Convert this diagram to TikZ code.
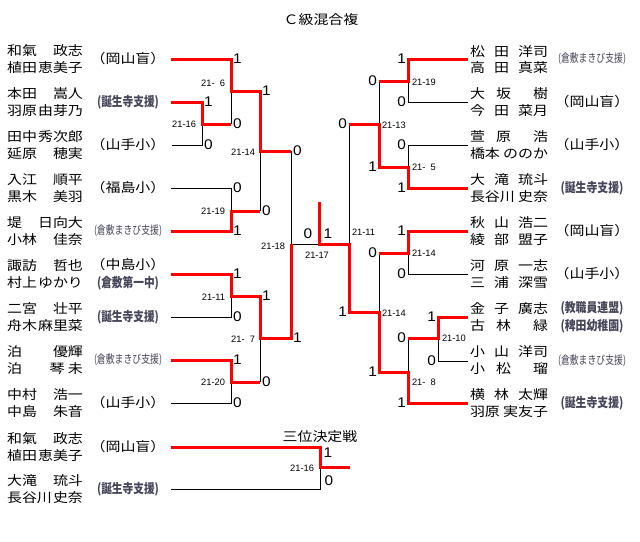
\documentclass[tikz,border=0pt]{standalone}
\usepackage{fontspec}
\usepackage{graphicx}
\setmainfont{Noto Sans CJK JP}
\newfontfamily\latf{Liberation Sans}
\definecolor{wred}{RGB}{255,0,0}
\definecolor{clubc}{RGB}{70,70,90}
\newcommand\NMl[1]{\scalebox{1.15}[1]{\makebox[66pt][l]{\fontsize{13pt}{13pt}\selectfont #1}}}
\newcommand\NMr[1]{\scalebox{1.15}[1]{\makebox[67.8pt][l]{\fontsize{13pt}{13pt}\selectfont #1}}}
\newcommand\BIG[1]{\scalebox{1.15}[1]{\fontsize{13pt}{13pt}\selectfont #1}}
\newcommand\SMC[3]{\textcolor{clubc}{\resizebox{#1}{\height}{\fontsize{#2}{#2}\selectfont\bfseries #3}}}
\newcommand\SMK[3]{\textcolor{clubc}{\resizebox{#1}{\height}{\fontsize{#2}{#2}\selectfont #3}}}
\newcommand\SCO[1]{\scalebox{1.1}[1]{\latf\fontsize{14pt}{14pt}\selectfont #1}}
\newcommand\LBL[1]{{\latf\fontsize{9.3pt}{9.3pt}\selectfont #1}}
\tikzset{
  thin/.style={draw=black, line width=0.8pt},
  win/.style={draw=wred, line width=3pt},
  txt/.style={inner sep=0pt, outer sep=0pt},
  scl/.style={txt, anchor=west},
  scr/.style={txt, anchor=east},
}
\begin{document}
\begin{tikzpicture}[x=1pt,y=-1pt]
\useasboundingbox (0,0) rectangle (640,541);
\fill[white] (0,0) rectangle (640,541);
% ---------- coordinates: left half ----------
\coordinate (a1) at (171,59);  \coordinate (a2) at (231,59);  \coordinate (a3) at (231,91);
\coordinate (a4) at (260,91);  \coordinate (a5) at (260,151); \coordinate (a6) at (291,151);
\coordinate (b1) at (171,102); \coordinate (b2) at (202,102); \coordinate (b3) at (202,124); \coordinate (b4) at (231,124);
\coordinate (c1) at (172,145); \coordinate (c2) at (202,145);
\coordinate (d1) at (171,188); \coordinate (d2) at (231,188); \coordinate (d3) at (231,211); \coordinate (d4) at (260,211);
\coordinate (e1) at (171,231); \coordinate (e2) at (231,231);
\coordinate (f1) at (171,274); \coordinate (f2) at (231,274); \coordinate (f3) at (231,296); \coordinate (f4) at (260,296);
\coordinate (f5) at (260,338); \coordinate (f6) at (291,338); \coordinate (f7) at (291,244);
\coordinate (g1) at (171,317); \coordinate (g2) at (231,317);
\coordinate (h1) at (171,360); \coordinate (h2) at (231,360); \coordinate (h3) at (231,382); \coordinate (h4) at (260,382);
\coordinate (i1) at (171,403); \coordinate (i2) at (231,403);
\coordinate (fin) at (319,244); \coordinate (champ) at (319,202);
% ---------- coordinates: right half ----------
\coordinate (p1) at (468,59);  \coordinate (p2) at (408,59);  \coordinate (p3) at (408,81);  \coordinate (p4) at (379,81);
\coordinate (q1) at (468,102); \coordinate (q2) at (408,102);
\coordinate (r1) at (468,145); \coordinate (r2) at (408,145);
\coordinate (s1) at (468,188); \coordinate (s2) at (408,188); \coordinate (s3) at (408,167); \coordinate (s4) at (379,167);
\coordinate (s5) at (379,124); \coordinate (s6) at (349,124);
\coordinate (t1) at (468,231); \coordinate (t2) at (408,231); \coordinate (t3) at (408,253); \coordinate (t4) at (379,253);
\coordinate (u1) at (468,274); \coordinate (u2) at (408,274);
\coordinate (v1) at (468,317); \coordinate (v2) at (438,317); \coordinate (v3) at (438,338); \coordinate (v4) at (408,338);
\coordinate (w1) at (468,361); \coordinate (w2) at (438,361);
\coordinate (z1) at (468,403); \coordinate (z2) at (408,403); \coordinate (z3) at (408,372); \coordinate (z4) at (379,372);
\coordinate (z5) at (379,312); \coordinate (z6) at (349,312); \coordinate (z7) at (349,244);
% ---------- third place ----------
\coordinate (k1) at (171,447); \coordinate (k2) at (320,447); \coordinate (k3) at (320,467); \coordinate (k4) at (350,467);
\coordinate (m1) at (171,489); \coordinate (m2) at (320,489);
% ---------- losing (thin) lines ----------
\draw[thin] (c1) -- (c2) -- (b3);
\draw[thin] (a3) -- (b4);
\draw[thin] (d1) -- (d2) -- (d3);
\draw[thin] (a5) -- (d4);
\draw[thin] (g1) -- (g2) -- (f3);
\draw[thin] (i1) -- (i2) -- (h3);
\draw[thin] (f5) -- (h4);
\draw[thin] (a6) -- (f7) -- (fin);
\draw[thin] (q1) -- (q2) -- (p3);
\draw[thin] (r1) -- (r2) -- (s3);
\draw[thin] (p4) -- (s5);
\draw[thin] (s6) -- (z7);
\draw[thin] (u1) -- (u2) -- (t3);
\draw[thin] (w1) -- (w2) -- (v3);
\draw[thin] (v4) -- (z3);
\draw[thin] (t4) -- (z5);
\draw[thin] (m1) -- (m2) -- (k3);
% ---------- winning (red) lines ----------
\draw[win] (a1) -- (a2) -- (a3) -- (a4) -- (a5) -- (a6);
\draw[win] (b1) -- (b2) -- (b3) -- (b4);
\draw[win] (e1) -- (e2) -- (d3) -- (d4);
\draw[win] (f1) -- (f2) -- (f3) -- (f4) -- (f5) -- (f6) -- (f7);
\draw[win] (h1) -- (h2) -- (h3) -- (h4);
\draw[win] (p1) -- (p2) -- (p3) -- (p4);
\draw[win] (s1) -- (s2) -- (s3) -- (s4) -- (s5) -- (s6);
\draw[win] (t1) -- (t2) -- (t3) -- (t4);
\draw[win] (v1) -- (v2) -- (v3) -- (v4);
\draw[win] (z1) -- (z2) -- (z3) -- (z4) -- (z5) -- (z6) -- (z7) -- (fin) -- (champ);
\draw[win] (k1) -- (k2) -- (k3) -- (k4);
% ---------- titles ----------
\node[txt] (title) at (321,20) {\BIG{Ｃ級混合複}};
\node[txt] (title3) at (320,437) {\BIG{三位決定戦}};
% ---------- left names ----------
\node[txt] (n1a) at (45,51)  {\NMl{和氣\hfill 政志}};
\node[txt] (n1b) at (45,68)  {\NMl{植田\hfill 恵美子}};
\node[txt] (n2a) at (45,94)  {\NMl{本田\hfill 嵩人}};
\node[txt] (n2b) at (45,111) {\NMl{羽原\hfill 由芽乃}};
\node[txt] (n3a) at (45,137) {\NMl{田中\hfill 秀次郎}};
\node[txt] (n3b) at (45,154) {\NMl{延原\hfill 穂実}};
\node[txt] (n4a) at (45,180) {\NMl{入江\hfill 順平}};
\node[txt] (n4b) at (45,197) {\NMl{黒木\hfill 美羽}};
\node[txt] (n5a) at (45,223) {\NMl{堤\hfill 日向大}};
\node[txt] (n5b) at (45,240) {\NMl{小林\hfill 佳奈}};
\node[txt] (n6a) at (45,266) {\NMl{諏訪\hfill 哲也}};
\node[txt] (n6b) at (45,283) {\NMl{村上\hfill ゆかり}};
\node[txt] (n7a) at (45,309) {\NMl{二宮\hfill 壮平}};
\node[txt] (n7b) at (45,326) {\NMl{舟木\hfill 麻里菜}};
\node[txt] (n8a) at (45,352) {\NMl{泊\hfill 優輝}};
\node[txt] (n8b) at (45,369) {\NMl{泊\hfill 琴\hspace{3pt}未}};
\node[txt] (n9a) at (45,395) {\NMl{中村\hfill 浩一}};
\node[txt] (n9b) at (45,412) {\NMl{中島\hfill 朱音}};
\node[txt] (n10a) at (45,439) {\NMl{和氣\hfill 政志}};
\node[txt] (n10b) at (45,456) {\NMl{植田\hfill 恵美子}};
\node[txt] (n11a) at (45,481) {\NMl{大滝\hfill 琉斗}};
\node[txt] (n11b) at (45,498) {\NMl{長谷川\hfill 史奈}};
% ---------- left clubs ----------
\node[txt] (c1l) at (128,59)  {\BIG{（岡山盲）}};
\node[txt] (c2l) at (128,102) {\SMC{62pt}{13pt}{(誕生寺支援)}};
\node[txt] (c3l) at (128,145) {\BIG{（山手小）}};
\node[txt] (c4l) at (128,188) {\BIG{（福島小）}};
\node[txt] (c5l) at (128,231) {\SMK{68pt}{11.5pt}{(倉敷まきび支援)}};
\node[txt] (c6l) at (128,265) {\BIG{（中島小）}};
\node[txt] (c6m) at (128,283) {\SMC{62pt}{13pt}{(倉敷第一中)}};
\node[txt] (c7l) at (128,317) {\SMC{62pt}{13pt}{(誕生寺支援)}};
\node[txt] (c8l) at (128,360) {\SMK{68pt}{11.5pt}{(倉敷まきび支援)}};
\node[txt] (c9l) at (128,403) {\BIG{（山手小）}};
\node[txt] (c10l) at (128,447) {\BIG{（岡山盲）}};
\node[txt] (c11l) at (128,489) {\SMC{62pt}{13pt}{(誕生寺支援)}};
% ---------- right names ----------
\node[txt] (r1a) at (509,52)  {\NMr{松\hfill 田\hfill 洋司}};
\node[txt] (r1b) at (509,68)  {\NMr{高\hfill 田\hfill 真菜}};
\node[txt] (r2a) at (509,94)  {\NMr{大\hfill 坂\hfill\hfill 樹}};
\node[txt] (r2b) at (509,111) {\NMr{今\hfill 田\hfill 菜月}};
\node[txt] (r3a) at (509,137) {\NMr{萱\hfill 原\hfill\hfill 浩}};
\node[txt] (r3b) at (509,154) {\NMr{橋本\hfill ののか}};
\node[txt] (r4a) at (509,180) {\NMr{大\hfill 滝\hfill 琉斗}};
\node[txt] (r4b) at (509,197) {\NMr{長谷川\hfill 史奈}};
\node[txt] (r5a) at (509,223) {\NMr{秋\hfill 山\hfill 浩二}};
\node[txt] (r5b) at (509,240) {\NMr{綾\hfill 部\hfill 盟子}};
\node[txt] (r6a) at (509,266) {\NMr{河\hfill 原\hfill 一志}};
\node[txt] (r6b) at (509,283) {\NMr{三\hfill 浦\hfill 深雪}};
\node[txt] (r7a) at (509,309) {\NMr{金\hfill 子\hfill 廣志}};
\node[txt] (r7b) at (509,326) {\NMr{古\hfill 林\hfill\hfill 緑}};
\node[txt] (r8a) at (509,352) {\NMr{小\hfill 山\hfill 洋司}};
\node[txt] (r8b) at (509,369) {\NMr{小\hfill 松\hfill\hfill 瑠}};
\node[txt] (r9a) at (509,395) {\NMr{横\hfill 林\hfill 太輝}};
\node[txt] (r9b) at (509,412) {\NMr{羽原\hfill 実友子}};
% ---------- right clubs ----------
\node[txt] (k1r) at (592,59)  {\SMK{68pt}{11.5pt}{(倉敷まきび支援)}};
\node[txt] (k2r) at (592,102) {\BIG{（岡山盲）}};
\node[txt] (k3r) at (592,145) {\BIG{（山手小）}};
\node[txt] (k4r) at (592,188) {\SMC{63pt}{13pt}{(誕生寺支援)}};
\node[txt] (k5r) at (592,231) {\BIG{（岡山盲）}};
\node[txt] (k6r) at (592,274) {\BIG{（山手小）}};
\node[txt] (k7r) at (592,308) {\SMC{63pt}{13pt}{(教職員連盟)}};
\node[txt] (k7s) at (592,326) {\SMC{63pt}{13pt}{(稗田幼稚園)}};
\node[txt] (k8r) at (592,361) {\SMK{68pt}{11.5pt}{(倉敷まきび支援)}};
\node[txt] (k9r) at (592,403) {\SMC{63pt}{13pt}{(誕生寺支援)}};
% ---------- left scores ----------
\node[scl] (sa1) at (233,59)  {\SCO{1}};
\node[scl] (sb1) at (204,102) {\SCO{1}};
\node[scl] (sc1) at (204,145) {\SCO{0}};
\node[scl] (sb2) at (233,124) {\SCO{0}};
\node[scl] (sa2) at (262,91)  {\SCO{1}};
\node[scl] (sd1) at (233,188) {\SCO{0}};
\node[scl] (se1) at (233,231) {\SCO{1}};
\node[scl] (sd2) at (262,211) {\SCO{0}};
\node[scl] (sa3) at (293,151) {\SCO{0}};
\node[scl] (sf1) at (233,274) {\SCO{1}};
\node[scl] (sg1) at (233,317) {\SCO{0}};
\node[scl] (sf2) at (262,296) {\SCO{1}};
\node[scl] (sh1) at (233,360) {\SCO{1}};
\node[scl] (si1) at (233,403) {\SCO{0}};
\node[scl] (sh2) at (262,382) {\SCO{0}};
\node[scl] (sf3) at (293,338) {\SCO{1}};
\node[txt] (sfl) at (308,234) {\SCO{0}};
\node[txt] (sfr) at (328,234) {\SCO{1}};
\node[txt] (sk1) at (328,453) {\SCO{1}};
\node[txt] (sm1) at (329,481) {\SCO{0}};
% ---------- right scores ----------
\node[scr] (sp1) at (406,59)  {\SCO{1}};
\node[scr] (sq1) at (406,102) {\SCO{0}};
\node[scr] (sp2) at (377,81)  {\SCO{0}};
\node[scr] (sr1) at (406,145) {\SCO{0}};
\node[scr] (ss1) at (406,188) {\SCO{1}};
\node[scr] (ss2) at (377,167) {\SCO{1}};
\node[scr] (ss3) at (347,124) {\SCO{0}};
\node[scr] (st1) at (406,231) {\SCO{1}};
\node[scr] (su1) at (406,274) {\SCO{0}};
\node[scr] (st2) at (377,253) {\SCO{0}};
\node[scr] (sv1) at (436,317) {\SCO{1}};
\node[scr] (sw1) at (436,361) {\SCO{0}};
\node[scr] (sv2) at (406,338) {\SCO{0}};
\node[scr] (sz1) at (406,403) {\SCO{1}};
\node[scr] (sz2) at (377,372) {\SCO{1}};
\node[scr] (sz3) at (347,312) {\SCO{1}};
% ---------- match labels ----------
\node[scr] (mB) at (196,124) {\LBL{21-16}};
\node[scr] (mA) at (225,83)  {\LBL{21-\hphantom{0}6}};
\node[scr] (mD) at (255,152) {\LBL{21-14}};
\node[scr] (mC) at (225,211) {\LBL{21-19}};
\node[scr] (mH) at (285,246) {\LBL{21-18}};
\node[scr] (mE) at (225,297) {\LBL{21-11}};
\node[scr] (mG) at (255,339) {\LBL{21-\hphantom{0}7}};
\node[scr] (mF) at (225,382) {\LBL{21-20}};
\node[txt] (mFin) at (317,255) {\LBL{21-17}};
\node[scr] (m3rd) at (314,468) {\LBL{21-16}};
\node[scl] (mP) at (412,82)  {\LBL{21-19}};
\node[scl] (mS) at (382,125) {\LBL{21-13}};
\node[scl] (mR) at (412,167) {\LBL{21-\hphantom{0}5}};
\node[scl] (mSF) at (352,232) {\LBL{21-11}};
\node[scl] (mT) at (412,253) {\LBL{21-14}};
\node[scl] (mZ) at (382,313) {\LBL{21-14}};
\node[scl] (mV) at (442,338) {\LBL{21-10}};
\node[scl] (mW) at (412,382) {\LBL{21-\hphantom{0}8}};
\end{tikzpicture}
\end{document}
